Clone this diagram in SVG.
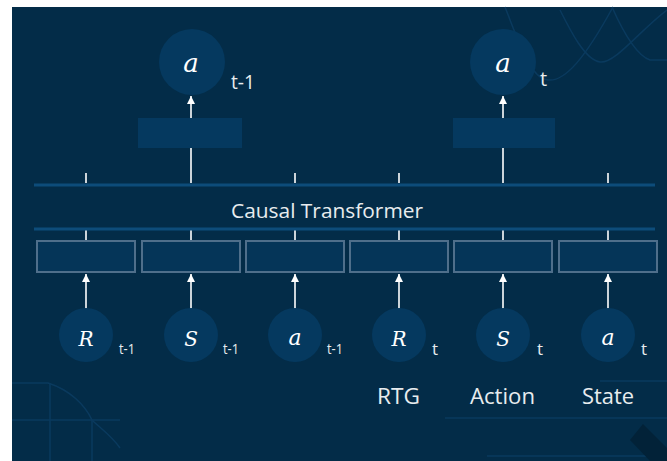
<svg xmlns="http://www.w3.org/2000/svg" width="667" height="461" viewBox="0 0 667 461">
<defs>
<style>
.bg{fill:#032c48}
.deco{fill:none;stroke:#0a3a5e;stroke-width:1.5}
.bar{stroke:#0d4c7a;stroke-width:3}
.tok{fill:#05395f}
.emb{fill:#053558;stroke:#4f6f8b;stroke-width:2}
.head{fill:#05395f}
.wl{stroke:#ffffff;stroke-width:1.6;fill:none}
.arr{stroke:#ffffff;stroke-width:1.6;fill:none;marker-end:url(#ah)}
.sym{font-family:"DejaVu Serif","Liberation Serif",serif;font-style:italic;fill:#ffffff;text-anchor:middle}
.sub{font-family:"Open Sans","Liberation Sans",sans-serif;fill:#e8ecef}
.lbl{font-family:"Open Sans","Liberation Sans",sans-serif;fill:#e8ecef;text-anchor:middle}
</style>
<marker id="ah" markerWidth="9" markerHeight="8" refX="8" refY="4" orient="auto" markerUnits="userSpaceOnUse">
<path d="M0,0 L8,4 L0,8 z" fill="#ffffff"/>
</marker>
</defs>
<rect x="0" y="0" width="667" height="461" fill="#ffffff"/>
<rect class="bg" x="12" y="7" width="655" height="454"/>
<g id="decoration">
<path class="deco" d="M505,7 C520,45 530,78 548,80 C565,82 585,58 613,7"/>
<path class="deco" d="M560,10 C570,30 585,60 600,62 C615,64 640,30 667,10"/>
<path class="deco" d="M612,7 C620,25 635,55 650,60 L667,60"/>
<path class="deco" d="M12,383 L48,383 C70,390 85,405 92,420 C100,428 112,436 120,448"/>
<path class="deco" d="M12,420 L120,420"/>
<path class="deco" d="M50,383 L50,461"/>
<path class="deco" d="M92,420 L92,461"/>
<path class="deco" d="M600,381 L667,381"/>
<path class="deco" d="M445,418 L667,418"/>
<path class="deco" d="M487,456 L667,456"/>
<path d="M643,424 L667,448 L667,461 L650,461 L630,440 z" fill="#022238"/>
</g>
<g id="connectors">
<line class="wl" x1="86" y1="173" x2="86" y2="183"/>
<line class="wl" x1="191" y1="148" x2="191" y2="183"/>
<line class="wl" x1="295" y1="173" x2="295" y2="183"/>
<line class="wl" x1="399" y1="173" x2="399" y2="183"/>
<line class="wl" x1="503" y1="148" x2="503" y2="183"/>
<line class="wl" x1="608" y1="173" x2="608" y2="183"/>
<line class="wl" x1="86" y1="230" x2="86" y2="241"/>
<line class="wl" x1="191" y1="230" x2="191" y2="241"/>
<line class="wl" x1="295" y1="230" x2="295" y2="241"/>
<line class="wl" x1="399" y1="230" x2="399" y2="241"/>
<line class="wl" x1="503" y1="230" x2="503" y2="241"/>
<line class="wl" x1="608" y1="230" x2="608" y2="241"/>
<line class="arr" x1="86" y1="309" x2="86" y2="274"/>
<line class="arr" x1="191" y1="309" x2="191" y2="274"/>
<line class="arr" x1="295" y1="309" x2="295" y2="274"/>
<line class="arr" x1="399" y1="309" x2="399" y2="274"/>
<line class="arr" x1="503" y1="309" x2="503" y2="274"/>
<line class="arr" x1="608" y1="309" x2="608" y2="274"/>
<line class="arr" x1="191" y1="118" x2="191" y2="96"/>
<line class="arr" x1="503" y1="118" x2="503" y2="96"/>
</g>
<g id="transformer">
<line class="bar" x1="34" y1="185" x2="655" y2="185"/>
<line class="bar" x1="34" y1="229" x2="655" y2="229"/>
<text class="lbl" x="327" y="218" font-size="20" textLength="192" lengthAdjust="spacingAndGlyphs">Causal Transformer</text>
</g>
<g id="head1"><rect class="head" x="138" y="118" width="104" height="30"/></g>
<g id="head2"><rect class="head" x="453" y="118" width="102" height="30"/></g>
<g id="out1">
<circle class="tok" cx="192" cy="62" r="33"/>
<text class="sym" x="191" y="72" font-size="26">a</text>
<text class="sub" x="231" y="89" font-size="20" textLength="24" lengthAdjust="spacingAndGlyphs">t-1</text>
</g>
<g id="out2">
<circle class="tok" cx="503" cy="62" r="33"/>
<text class="sym" x="503" y="72" font-size="26">a</text>
<text class="sub" x="540" y="86" font-size="20">t</text>
</g>
<g id="emb1"><rect class="emb" x="37" y="241" width="98" height="31"/></g>
<g id="emb2"><rect class="emb" x="142" y="241" width="98" height="31"/></g>
<g id="emb3"><rect class="emb" x="246" y="241" width="98" height="31"/></g>
<g id="emb4"><rect class="emb" x="350" y="241" width="98" height="31"/></g>
<g id="emb5"><rect class="emb" x="454" y="241" width="98" height="31"/></g>
<g id="emb6"><rect class="emb" x="559" y="241" width="98" height="31"/></g>
<g id="in1">
<circle class="tok" cx="86" cy="335" r="27"/>
<text class="sym" x="86" y="346" font-size="20">R</text>
<text class="sub" x="119" y="354" font-size="14" textLength="16" lengthAdjust="spacingAndGlyphs">t-1</text>
</g>
<g id="in2">
<circle class="tok" cx="191" cy="335" r="27"/>
<text class="sym" x="191" y="346" font-size="20">S</text>
<text class="sub" x="223" y="354" font-size="14" textLength="16" lengthAdjust="spacingAndGlyphs">t-1</text>
</g>
<g id="in3">
<circle class="tok" cx="295" cy="335" r="27"/>
<text class="sym" x="295" y="345" font-size="22">a</text>
<text class="sub" x="327" y="354" font-size="14" textLength="16" lengthAdjust="spacingAndGlyphs">t-1</text>
</g>
<g id="in4">
<circle class="tok" cx="399" cy="335" r="27"/>
<text class="sym" x="399" y="346" font-size="20">R</text>
<text class="sub" x="432" y="355" font-size="17">t</text>
</g>
<g id="in5">
<circle class="tok" cx="503" cy="335" r="27"/>
<text class="sym" x="503" y="346" font-size="20">S</text>
<text class="sub" x="537" y="355" font-size="17">t</text>
</g>
<g id="in6">
<circle class="tok" cx="608" cy="335" r="27"/>
<text class="sym" x="608" y="345" font-size="22">a</text>
<text class="sub" x="641" y="355" font-size="17">t</text>
</g>
<g id="labels">
<text class="lbl" x="398.5" y="404" font-size="21" textLength="43" lengthAdjust="spacingAndGlyphs">RTG</text>
<text class="lbl" x="502.5" y="404" font-size="21" textLength="65" lengthAdjust="spacingAndGlyphs">Action</text>
<text class="lbl" x="608" y="404" font-size="21" textLength="52" lengthAdjust="spacingAndGlyphs">State</text>
</g>
</svg>
